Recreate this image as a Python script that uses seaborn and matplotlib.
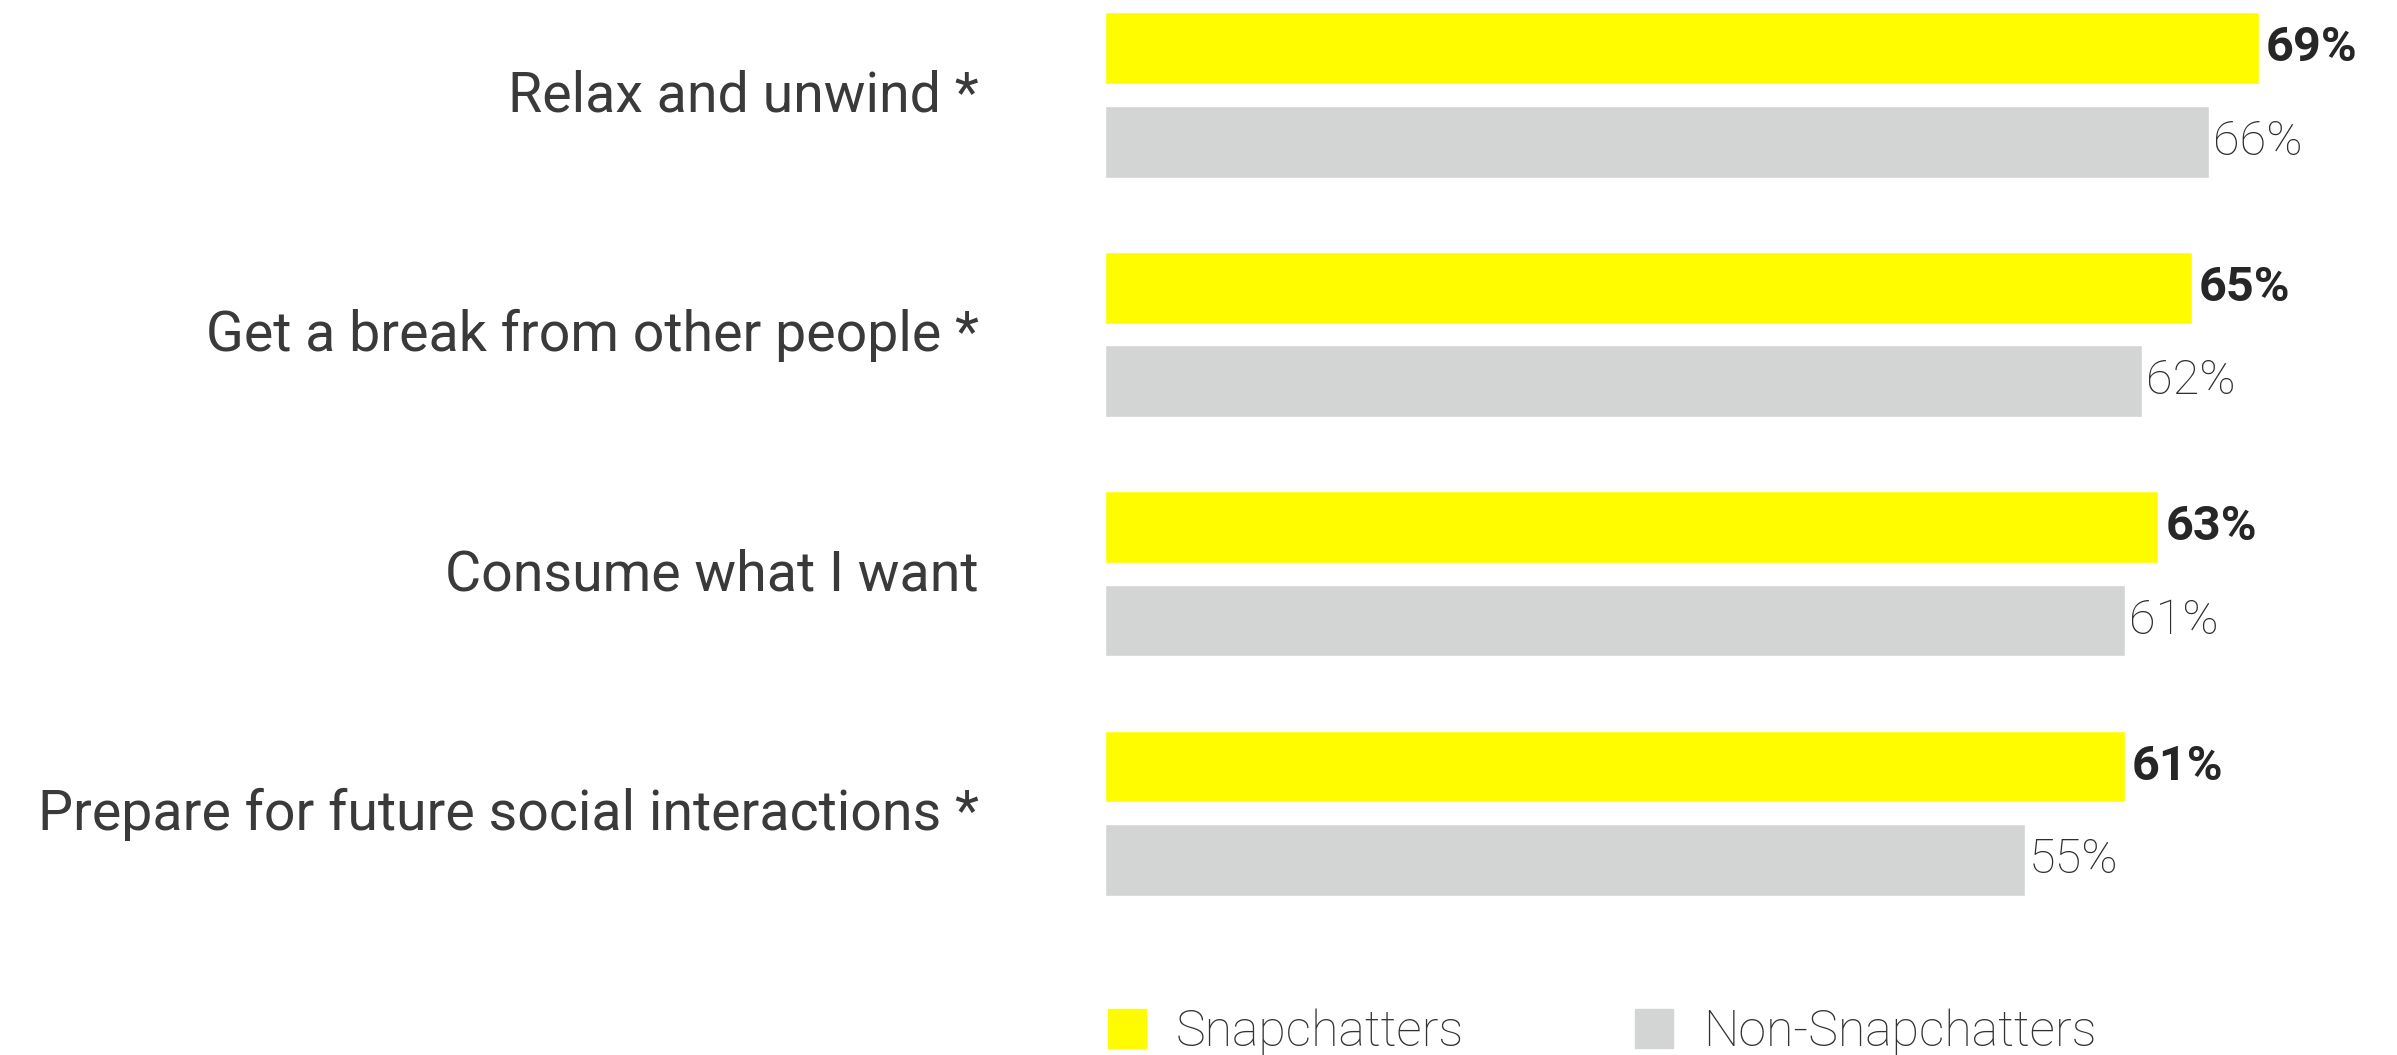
import matplotlib
matplotlib.use("Agg")
import matplotlib.pyplot as plt
import matplotlib.transforms as mtransforms
import seaborn as sns
import pandas as pd

categories = ["Relax and unwind *", "Get a break from other people *",
              "Consume what I want", "Prepare for future social interactions *"]
snapchatters = [69, 65, 63, 61]
non_snapchatters = [66, 62, 61, 55]
series_names = ["Snapchatters", "Non-Snapchatters"]
colors = ["#FFFC00", "#D3D5D4"]

df = pd.DataFrame({
    "category": categories * 2,
    "value": snapchatters + non_snapchatters,
    "group": [series_names[0]] * 4 + [series_names[1]] * 4,
})

sns.set_theme(style="white")
plt.rcParams["font.family"] = ["Roboto", "DejaVu Sans"]

W, H, DPI = 2397, 1055, 100
fig = plt.figure(figsize=(W / DPI, H / DPI), dpi=DPI)
x0 = 1105
ax = fig.add_axes([x0 / W, 0, 1 - x0 / W, 1])

sns.barplot(data=df, y="category", x="value", hue="group", order=categories,
            hue_order=series_names, palette=colors, orient="h",
            width=0.78, gap=0.23, ax=ax, legend=True, saturation=1)

px_per = 16.72
ax.set_xlim(0, (W - x0) / px_per)
spacing = 239.4
c0 = 95
ax.set_ylim((H - c0) / spacing, -c0 / spacing)

for s in ax.spines.values():
    s.set_visible(False)
ax.set_xticks([])
ax.set_xlabel("")
ax.set_ylabel("")
ax.tick_params(axis="y", length=0, pad=91, labelsize=40, labelcolor="#3a3a3a")
shift = mtransforms.ScaledTranslation(0, 4 / DPI, fig.dpi_scale_trans)
for lab in ax.get_yticklabels():
    lab.set_transform(lab.get_transform() + shift)

conts = ax.containers
ax.bar_label(conts[0], labels=[f"{v}%" for v in snapchatters], padding=5,
             fontsize=35, fontweight="bold", color="#262626")
ax.bar_label(conts[1], labels=[f"{v}%" for v in non_snapchatters], padding=3,
             fontsize=35, fontweight="light", color="#2e2e2e")

ax.legend_.remove()
handles = [plt.Rectangle((0, 0), 1, 1, color=c) for c in colors]
leg = fig.legend(handles, series_names, loc="center left",
                 bbox_to_anchor=(1108 / W, 1 - 1032 / H), ncol=2, frameon=False,
                 fontsize=36, handlelength=0.76, handleheight=0.82,
                 handletextpad=0.6, columnspacing=3.42, borderaxespad=0,
                 borderpad=0)
for t in leg.get_texts():
    t.set_color("#333333")
    t.set_fontweight("light")

fig.savefig("out.png", dpi=DPI)
